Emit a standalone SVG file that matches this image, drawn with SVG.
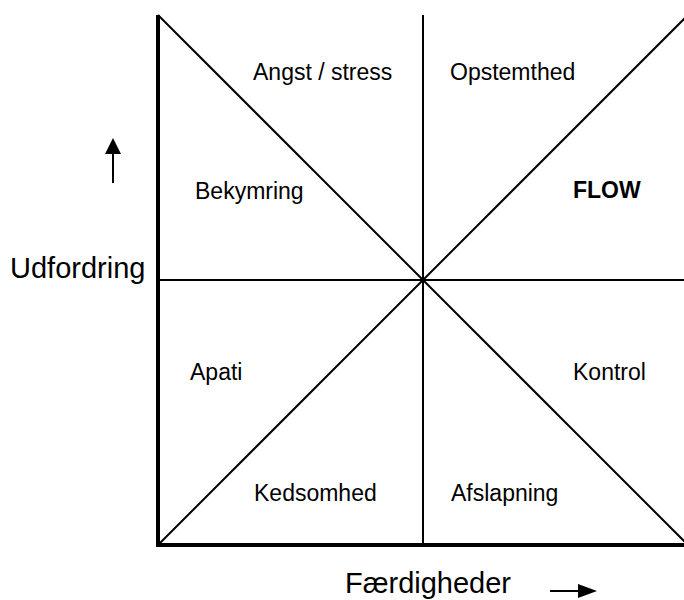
<svg xmlns="http://www.w3.org/2000/svg" width="684" height="600" viewBox="0 0 684 600">
<style>
.axis{stroke:#000;stroke-width:4;fill:none}
.ln{stroke:#000;stroke-width:2;fill:none}
.lbl{font-family:"Liberation Sans",Arial,sans-serif;font-size:23px;fill:#000}
.big{font-family:"Liberation Sans",Arial,sans-serif;font-size:29px;fill:#000}
</style>
<rect width="684" height="600" fill="#fff"/>
<g id="connectors">
<line class="ln" x1="423" y1="15" x2="423" y2="545"/>
<line class="ln" x1="158" y1="280" x2="684" y2="280"/>
<line class="ln" x1="158" y1="15" x2="688" y2="545"/>
<line class="ln" x1="158" y1="545" x2="688" y2="15"/>
<line class="axis" x1="158" y1="15" x2="158" y2="547"/>
<line class="axis" x1="156" y1="545" x2="684" y2="545"/>
<line class="ln" x1="113" y1="183" x2="113" y2="150"/>
<polygon points="113,138 105,154 121,154" fill="#000"/>
<line class="ln" x1="550" y1="591" x2="582" y2="591"/>
<polygon points="597,591 578,584 578,598" fill="#000"/>
</g>
<g id="axis-y"><text class="big" x="10" y="278">Udfordring</text></g>
<g id="axis-x"><text class="big" x="345" y="593">Færdigheder</text></g>
<g id="angst"><text class="lbl" x="253" y="80">Angst / stress</text></g>
<g id="opstemthed"><text class="lbl" x="450" y="80">Opstemthed</text></g>
<g id="bekymring"><text class="lbl" x="195" y="199">Bekymring</text></g>
<g id="flow"><text class="lbl" x="573" y="198" font-weight="bold">FLOW</text></g>
<g id="apati"><text class="lbl" x="190" y="380">Apati</text></g>
<g id="kontrol"><text class="lbl" x="573" y="380">Kontrol</text></g>
<g id="kedsomhed"><text class="lbl" x="254" y="501">Kedsomhed</text></g>
<g id="afslapning"><text class="lbl" x="451" y="501">Afslapning</text></g>
</svg>
